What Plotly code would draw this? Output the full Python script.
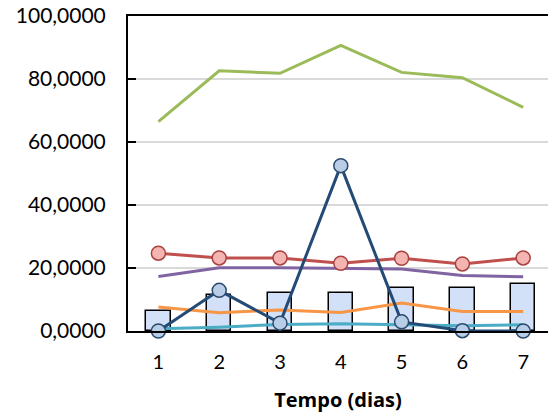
import plotly.graph_objects as go

dias = [1, 2, 3, 4, 5, 6, 7]

barras = [6.2, 11.4, 12.1, 12.1, 13.5, 13.7, 14.8]
serie_verde = [66.5, 82.6, 81.8, 90.7, 82.1, 80.4, 71.0]
serie_vermelha = [24.7, 23.2, 23.2, 21.5, 23.1, 21.3, 23.2]
serie_roxa = [17.3, 20.1, 20.1, 20.0, 19.7, 17.6, 17.2]
serie_laranja = [7.6, 5.8, 6.7, 5.9, 8.9, 6.2, 6.2]
serie_ciano = [0.7, 1.2, 2.1, 2.3, 2.0, 1.7, 2.0]
serie_azul = [0.0, 12.9, 2.5, 52.5, 2.9, 0.1, 0.0]

y_ticks = [0, 20, 40, 60, 80, 100]
y_tick_text = ["0,0000", "20,0000", "40,0000", "60,0000", "80,0000", "100,0000"]

FONT = "Lato"

fig = go.Figure()

fig.add_trace(go.Bar(
    x=dias, y=barras, width=0.4,
    marker=dict(color="#d2e1f7", line=dict(color="#000000", width=1.5)),
))

def linha(y, cor):
    fig.add_trace(go.Scatter(
        x=dias, y=y, mode="lines",
        line=dict(color=cor, width=3),
    ))

linha(serie_verde, "#9bbb59")
linha(serie_roxa, "#8064a2")
linha(serie_laranja, "#f79646")
linha(serie_ciano, "#4bacc6")

fig.add_trace(go.Scatter(
    x=dias, y=serie_vermelha, mode="lines+markers",
    line=dict(color="#c0504d", width=3),
    marker=dict(size=14, color="#f4b4b2", line=dict(color="#a8423f", width=1.5)),
))

fig.add_trace(go.Scatter(
    x=dias, y=serie_azul, mode="lines+markers",
    line=dict(color="#244a76", width=3),
    marker=dict(size=14, color="#b8cde6", line=dict(color="#2c4a6e", width=1.5)),
    cliponaxis=False,
))

fig.update_layout(
    width=548, height=414,
    margin=dict(l=128, r=0, t=16, b=83),
    paper_bgcolor="white", plot_bgcolor="white",
    showlegend=False,
    font=dict(family=FONT, color="#000000"),
    bargap=0,
)

fig.update_xaxes(
    range=[0.5, 7.408],
    tickmode="array", tickvals=dias, ticktext=[str(d) for d in dias],
    tickfont=dict(size=20, family=FONT),
    showgrid=False, zeroline=False,
    showline=True, linecolor="#000000", linewidth=2, mirror=True,
    ticks="", ticklabelstandoff=12,
    title=dict(text="<b>Tempo (dias)</b>", font=dict(size=20, family="Open Sans"), standoff=21),
)

fig.update_yaxes(
    range=[0, 100],
    tickmode="array", tickvals=y_ticks, ticktext=y_tick_text,
    tickfont=dict(size=21, family=FONT),
    showgrid=True, gridcolor="#d9d9d9", gridwidth=1.5,
    zeroline=False,
    showline=True, linecolor="#000000", linewidth=2,
    ticks="inside", ticklen=8, tickwidth=2, tickcolor="#000000",
    ticklabelstandoff=16,
)

fig.write_html("out.html")
